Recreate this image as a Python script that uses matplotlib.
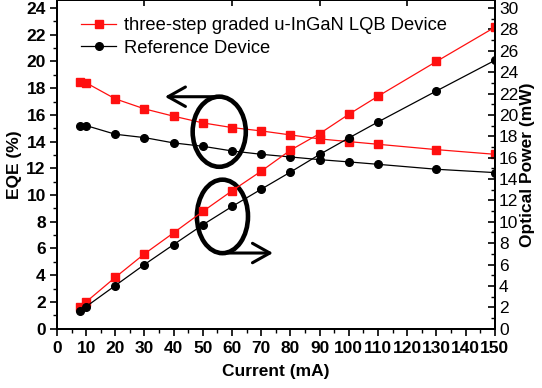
import matplotlib
matplotlib.use("Agg")
import matplotlib.pyplot as plt
from matplotlib.patches import Ellipse
from matplotlib.ticker import MultipleLocator

plt.rcParams['font.family'] = ['Liberation Sans', 'DejaVu Sans']

current = [8, 10, 20, 30, 40, 50, 60, 70, 80, 90, 100, 110, 130, 150]
eqe_lqb = [18.45, 18.4, 17.2, 16.45, 15.9, 15.4, 15.05, 14.8, 14.5, 14.2, 14.0, 13.8, 13.4, 13.05]
eqe_ref = [15.2, 15.2, 14.55, 14.3, 13.9, 13.65, 13.3, 13.05, 12.85, 12.65, 12.48, 12.3, 11.93, 11.68]
pow_lqb = [2.0, 2.5, 4.8, 7.0, 8.97, 10.97, 12.9, 14.74, 16.7, 18.25, 20.06, 21.75, 25.0, 28.2]
pow_ref = [1.62, 2.06, 4.03, 6.0, 7.87, 9.72, 11.43, 13.05, 14.65, 16.3, 17.84, 19.34, 22.24, 25.1]
labels = ["three-step graded u-InGaN LQB Device", "Reference Device"]

fig = plt.figure(figsize=(5.42, 3.88), dpi=100)
ax = fig.add_axes([0.105, 0.153, 0.808, 0.847])
ax2 = ax.twinx()
ax3 = ax.twiny()

red = '#ff1010'
ax.plot(current, eqe_lqb, '-s', color=red, lw=0.9, ms=6, mec=red, label=labels[0])
ax.plot(current, eqe_ref, '-o', color='black', lw=0.9, ms=5.5, label=labels[1])
ax2.plot(current, pow_lqb, '-s', color=red, lw=0.9, ms=6, mec=red)
ax2.plot(current, pow_ref, '-o', color='black', lw=0.9, ms=5.5)

ax.set_xlim(0, 150)
ax3.set_xlim(0, 150)
ax.set_ylim(0, 24.6)
ax2.set_ylim(0, 30.75)

ax.xaxis.set_major_locator(MultipleLocator(10))
ax.xaxis.set_minor_locator(MultipleLocator(5))
ax.yaxis.set_major_locator(MultipleLocator(2))
ax.yaxis.set_minor_locator(MultipleLocator(1))
ax2.yaxis.set_major_locator(MultipleLocator(2))
ax2.yaxis.set_minor_locator(MultipleLocator(1))
ax3.xaxis.set_major_locator(MultipleLocator(30))
ax3.tick_params(axis='x', direction='in', length=4, width=1.2, labeltop=False)

ax.tick_params(axis='x', which='major', direction='out', length=5, width=1.2, pad=4, labelsize=12.5)
ax.tick_params(axis='x', which='minor', direction='out', length=3, width=1.0)
ax.tick_params(axis='y', which='major', direction='out', length=5, width=1.2, pad=3, labelsize=12.5)
ax.tick_params(axis='y', which='minor', direction='out', length=3, width=1.0)
ax2.tick_params(axis='y', which='major', direction='in', length=5, width=1.2, pad=3, labelsize=12.5)
ax2.tick_params(axis='y', which='minor', direction='in', length=3, width=1.0)
for t in ax.get_xticklabels() + ax.get_yticklabels():
    t.set_fontweight('bold')

for a in (ax, ax2, ax3):
    for s in a.spines.values():
        s.set_linewidth(1.3)

ax.set_xlabel('Current (mA)', fontsize=12.5, fontweight='bold', labelpad=6)
ax.set_ylabel('EQE (%)', fontsize=12.5, fontweight='bold', labelpad=3)
ax2.set_ylabel('Optical Power (mW)', fontsize=12.5, fontweight='bold', labelpad=1)

leg = ax.legend(loc='upper left', bbox_to_anchor=(0.035, 0.975), frameon=False,
                fontsize=13.2, handlelength=1.9, handletextpad=0.4, labelspacing=0.3,
                borderpad=0)

# annotations: ellipses and arrows
ax.add_patch(Ellipse((55.6, 14.74), 18.2, 5.25, fill=False, lw=3.3, ec='black', zorder=5))
ax.add_patch(Ellipse((56.7, 8.4), 17.5, 5.5, fill=False, lw=3.3, ec='black', zorder=5))
ax.annotate('', xy=(37.0, 17.36), xytext=(55.6, 17.36),
            arrowprops=dict(arrowstyle='->,head_length=0.5,head_width=0.28', lw=2.2,
                            color='black', mutation_scale=25, shrinkA=0, shrinkB=0))
ax.annotate('', xy=(74.0, 5.66), xytext=(56.5, 5.66),
            arrowprops=dict(arrowstyle='->,head_length=0.5,head_width=0.28', lw=2.2,
                            color='black', mutation_scale=25, shrinkA=0, shrinkB=0))

fig.savefig('out.png', dpi=100)
